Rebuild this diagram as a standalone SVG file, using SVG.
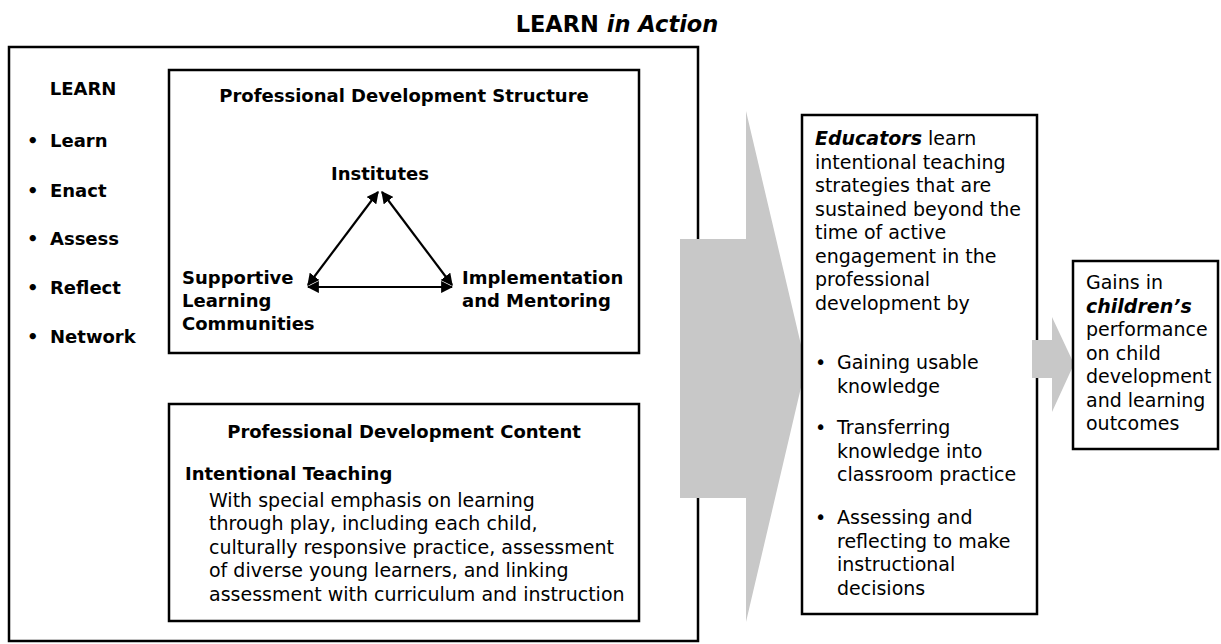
<svg xmlns="http://www.w3.org/2000/svg" width="1221" height="644" viewBox="0 0 1221 644">
  <style>
    .box { fill: #ffffff; stroke: #000000; stroke-width: 2.5; }
    .frame { fill: none; stroke: #000000; stroke-width: 2.5; }
    .flow { fill: #c8c8c8; stroke: none; }
    .b { font-family: "DejaVu Sans", "Liberation Sans", sans-serif; font-weight: bold; font-size: 18px; fill: #000; }
    .t { font-family: "DejaVu Sans", "Liberation Sans", sans-serif; font-size: 19px; fill: #000; }
    .title { font-family: "DejaVu Sans", "Liberation Sans", sans-serif; font-weight: bold; font-size: 22.5px; fill: #000; }
    .link { stroke: #000; stroke-width: 2.2; fill: none; marker-start: url(#head); marker-end: url(#head); }
  </style>
  <defs>
    <marker id="head" viewBox="0 0 10 10" refX="9" refY="5" markerWidth="5.5" markerHeight="5.5" orient="auto-start-reverse" markerUnits="strokeWidth">
      <path d="M0,0 L10,5 L0,10 Z" fill="#000"/>
    </marker>
  </defs>

  <rect width="1221" height="644" fill="#ffffff"/>

  <!-- heading -->
  <text id="heading" class="title" x="617" y="32" text-anchor="middle">LEARN <tspan font-style="italic">in Action</tspan></text>

  <!-- outer LEARN frame -->
  <g id="learn-frame">
    <rect class="frame" x="9" y="47" width="689" height="594"/>
    <text class="b" x="83" y="95" text-anchor="middle">LEARN</text>
    <g class="b">
      <text x="27" y="147">•</text><text x="50" y="147">Learn</text>
      <text x="27" y="197">•</text><text x="50" y="197">Enact</text>
      <text x="27" y="245">•</text><text x="50" y="245">Assess</text>
      <text x="27" y="294">•</text><text x="50" y="294">Reflect</text>
      <text x="27" y="343">•</text><text x="50" y="343">Network</text>
    </g>
  </g>

  <!-- professional development structure -->
  <g id="pd-structure">
    <rect class="box" x="169" y="70" width="470" height="283"/>
    <text class="b" x="404" y="102" text-anchor="middle">Professional Development Structure</text>
  </g>

  <g id="institutes">
    <text class="b" x="380" y="180" text-anchor="middle">Institutes</text>
  </g>
  <g id="supportive-learning-communities">
    <text class="b" x="182" y="284">Supportive</text>
    <text class="b" x="182" y="307">Learning</text>
    <text class="b" x="182" y="330">Communities</text>
  </g>
  <g id="implementation-mentoring">
    <text class="b" x="462" y="284">Implementation</text>
    <text class="b" x="462" y="307">and Mentoring</text>
  </g>

  <!-- two-way links between the three structure elements -->
  <g id="connectors">
    <line class="link" x1="378" y1="192" x2="308" y2="285"/>
    <line class="link" x1="382" y1="192" x2="452" y2="285"/>
    <line class="link" x1="308" y1="287" x2="452" y2="287"/>
  </g>

  <!-- professional development content -->
  <g id="pd-content">
    <rect class="box" x="169" y="404" width="470" height="217"/>
    <text class="b" x="404" y="438" text-anchor="middle">Professional Development Content</text>
    <text class="b" x="185" y="480">Intentional Teaching</text>
    <g class="t">
      <text x="209" y="507">With special emphasis on learning</text>
      <text x="209" y="530">through play, including each child,</text>
      <text x="209" y="554">culturally responsive practice, assessment</text>
      <text x="209" y="577">of diverse young learners, and linking</text>
      <text x="209" y="601">assessment with curriculum and instruction</text>
    </g>
  </g>

  <!-- large block arrow -->
  <g id="main-arrow">
    <path class="flow" d="M680,239 L746,239 L746,111 L806,366 L746,622 L746,498 L680,498 Z"/>
  </g>

  <!-- educator outcomes -->
  <g id="educators">
    <rect class="box" x="802" y="115" width="235" height="499"/>
    <g class="t">
      <text x="815" y="145"><tspan font-weight="bold" font-style="italic">Educators</tspan> learn</text>
      <text x="815" y="169">intentional teaching</text>
      <text x="815" y="192">strategies that are</text>
      <text x="815" y="216">sustained beyond the</text>
      <text x="815" y="239">time of active</text>
      <text x="815" y="263">engagement in the</text>
      <text x="815" y="286">professional</text>
      <text x="815" y="310">development by</text>
      <text x="815" y="369">•</text>
      <text x="837" y="369">Gaining usable</text>
      <text x="837" y="393">knowledge</text>
      <text x="815" y="434">•</text>
      <text x="837" y="434">Transferring</text>
      <text x="837" y="458">knowledge into</text>
      <text x="837" y="481">classroom practice</text>
      <text x="815" y="524">•</text>
      <text x="837" y="524">Assessing and</text>
      <text x="837" y="548">reflecting to make</text>
      <text x="837" y="571">instructional</text>
      <text x="837" y="595">decisions</text>
    </g>
  </g>

  <!-- small block arrow -->
  <g id="small-arrow">
    <path class="flow" d="M1032,340 L1052,340 L1052,317 L1074,364 L1052,412 L1052,378 L1032,378 Z"/>
  </g>

  <!-- child outcomes -->
  <g id="children">
    <rect class="box" x="1073" y="261" width="145" height="188"/>
    <g class="t">
      <text x="1086" y="289">Gains in</text>
      <text x="1086" y="313" font-weight="bold" font-style="italic">children’s</text>
      <text x="1086" y="336">performance</text>
      <text x="1086" y="360">on child</text>
      <text x="1086" y="383">development</text>
      <text x="1086" y="407">and learning</text>
      <text x="1086" y="430">outcomes</text>
    </g>
  </g>
</svg>
